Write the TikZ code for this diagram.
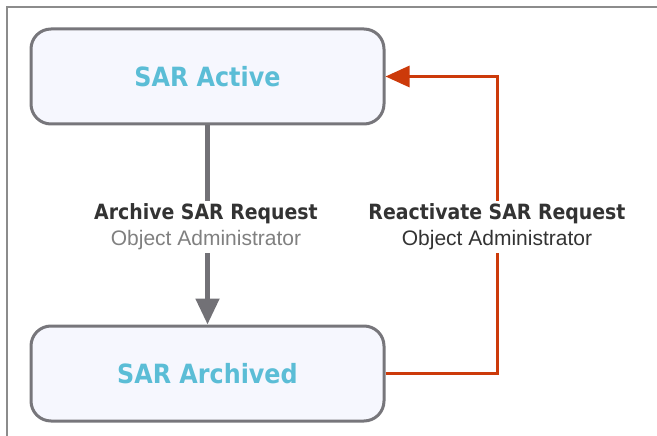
\documentclass[tikz,border=0pt]{standalone}
\usepackage{fontspec}
\setmainfont{Liberation Sans}
\newfontfamily\headfont{DejaVu Sans Condensed}
\usetikzlibrary{arrows.meta}
\definecolor{boxfill}{HTML}{F6F7FE}
\definecolor{boxline}{HTML}{77767B}
\definecolor{titleblue}{HTML}{5BBDD6}
\definecolor{flowred}{HTML}{CC3A0A}
\definecolor{flowgray}{HTML}{727176}
\definecolor{labeldark}{HTML}{333333}
\definecolor{labelgray}{HTML}{808080}
\definecolor{framegray}{HTML}{8C8C8C}
\tikzset{
  state/.style={draw=boxline, fill=boxfill, line width=3pt, rounded corners=20pt,
    minimum width=353pt, minimum height=95pt, inner sep=0pt,
    font=\headfont\bfseries\fontsize{26.5}{30}\selectfont, text=titleblue},
  flowlabel/.style={fill=white, inner sep=3pt, align=center,
    font=\fontsize{21}{26}\selectfont},
  grayflow/.style={draw=flowgray, line width=5pt, -{Triangle[length=26pt,width=23pt]}},
  redflow/.style={draw=flowred, line width=3pt, line join=miter, -{Triangle[length=24pt,width=21pt]}}
}
\begin{document}
\begin{tikzpicture}[x=1pt,y=-1pt]
\useasboundingbox (0,0) rectangle (657,436);
% outer frame (top and left edges only)
\draw[framegray, line width=2pt] (7,436) -- (7,7) -- (657,7);
% states
\node[state] (active) at (207.5,76.5) {SAR Active};
\node[state] (archived) at (207.5,373.5) {SAR Archived};
% archive transition
\draw[grayflow] (active.south) -- (archived.north)
  node[flowlabel] (archlbl) at (206,227) {{\headfont\bfseries\color{labeldark}Archive SAR Request}\\{\color{labelgray}Object Administrator}};
% reactivate transition
\coordinate (cornerlow) at (497,373.5);
\coordinate (cornerhigh) at (497,76.5);
\draw[redflow] (archived.east) -- (cornerlow) -- (cornerhigh) -- (active.east);
\node[flowlabel] (reactlbl) at (497,227) {{\headfont\bfseries\color{labeldark}Reactivate SAR Request}\\{\color{labeldark}Object Administrator}};
\end{tikzpicture}
\end{document}
